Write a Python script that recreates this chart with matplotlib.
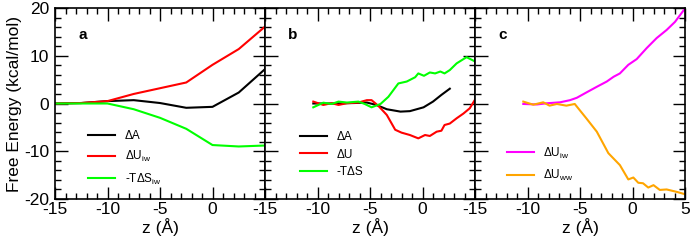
import matplotlib
matplotlib.use('Agg')
import matplotlib.pyplot as plt
from matplotlib.ticker import MultipleLocator

plt.rcParams['font.family'] = ['Liberation Sans', 'DejaVu Sans']
plt.rcParams['mathtext.fontset'] = 'custom'
plt.rcParams['mathtext.rm'] = 'Liberation Sans'
plt.rcParams['axes.unicode_minus'] = False

# panel a
za = [-15, -12.5, -10, -7.5, -5, -2.5, 0, 2.5, 5]
a_dA = [0.0, 0.1, 0.5, 0.7, 0.1, -0.9, -0.7, 2.3, 7.2]
a_dU = [0.0, 0.1, 0.5, 2.0, 3.2, 4.4, 8.1, 11.4, 16.1]
a_TdS = [0.0, 0.0, 0.0, -1.2, -3.0, -5.3, -8.7, -9.0, -8.8]

# panel b
zb_A = [-10.4, -9.5, -8.5, -7.5, -6.5, -5.3, -4.4, -3.4, -2.1, -1.2, 0.1, 1.0, 1.8, 2.6]
b_dA = [0.0, 0.0, 0.0, 0.05, 0.1, 0.2, -0.3, -1.2, -1.7, -1.6, -0.8, 0.4, 1.8, 3.1]
zb_U = [-10.4, -9.45, -8.65, -8.0, -7.2, -6.1, -5.3, -4.85, -4.2, -3.4, -2.6, -2.0, -1.2,
        -0.4, 0.24, 0.7, 1.35, 1.8, 2.1, 2.6, 3.25, 3.9, 4.5, 5.0]
b_dU = [0.4, -0.3, 0.06, -0.3, 0.06, 0.2, 0.7, 0.7, -0.5, -2.4, -5.5, -6.1, -6.6,
        -7.3, -6.6, -6.8, -5.9, -5.7, -4.5, -4.2, -3.1, -2.1, -1.0, 0.8]
zb_S = [-10.4, -9.45, -8.65, -8.0, -7.2, -6.1, -5.5, -4.85, -4.0, -3.25, -2.3, -1.5,
        -0.7, -0.4, 0.14, 0.7, 1.2, 1.7, 2.1, 2.6, 3.25, 3.9, 4.2, 5.0]
b_TdS = [-0.8, 0.17, -0.1, 0.4, 0.2, 0.4, -0.1, -0.8, -0.1, 1.4, 4.2, 4.6,
         5.5, 6.3, 5.8, 6.5, 6.3, 6.7, 6.3, 7.0, 8.4, 9.3, 9.7, 8.8]

# panel c
zc_iw = [-10.4, -9.1, -8.2, -6.9, -5.95, -5.3, -4.4, -3.4, -2.45, -1.8, -1.2, -0.4,
         0.4, 1.35, 2.3, 3.25, 4.05, 5.0]
c_Uiw = [-0.1, -0.2, 0.04, 0.25, 0.7, 1.2, 2.3, 3.5, 4.6, 5.6, 6.3, 8.1,
         9.3, 11.6, 13.7, 15.4, 17.1, 19.9]
zc_ww = [-10.4, -9.45, -8.5, -7.9, -7.2, -6.3, -5.5, -4.4, -3.4, -2.3, -1.2, -0.4,
         0.08, 0.55, 1.0, 1.5, 2.0, 2.6, 3.25, 4.2, 5.0]
c_Uww = [0.4, -0.25, 0.25, -0.45, -0.1, -0.45, -0.1, -3.1, -5.9, -10.4, -12.9, -15.9,
         -15.5, -16.6, -16.7, -17.6, -17.1, -18.1, -18.0, -18.5, -19.0]

fig = plt.figure(figsize=(6.92, 2.47), dpi=100)
left, bottom, w, h = 55 / 692, 1 - 199 / 247, 210 / 692, 191 / 247
axs = [fig.add_axes([left + i * w, bottom, w, h]) for i in range(3)]

lw = 1.5
axs[0].plot(za, a_dA, color='black', lw=lw, label='ΔA')
axs[0].plot(za, a_dU, color='#ff0000', lw=lw, label='ΔU$_{\\mathrm{iw}}$')
axs[0].plot(za, a_TdS, color='#00ff00', lw=lw, label='-TΔS$_{\\mathrm{iw}}$')

axs[1].plot(zb_A, b_dA, color='black', lw=lw, label='ΔA')
axs[1].plot(zb_U, b_dU, color='#ff0000', lw=lw, label='ΔU')
axs[1].plot(zb_S, b_TdS, color='#00ff00', lw=lw, label='-TΔS')

axs[2].plot(zc_iw, c_Uiw, color='#ff00ff', lw=lw, label='ΔU$_{\\mathrm{iw}}$')
axs[2].plot(zc_ww, c_Uww, color='#ffa500', lw=lw, label='ΔU$_{\\mathrm{ww}}$')

letters = ['a', 'b', 'c']
leg_pos = [(0.157, 0.36), (0.167, 0.355), (0.151, 0.28)]
leg_space = [0.6, 0.45, 0.6]
for i, ax in enumerate(axs):
    ax.set_xlim(-15, 5)
    ax.set_ylim(-20, 20)
    ax.xaxis.set_major_locator(MultipleLocator(5))
    ax.xaxis.set_minor_locator(MultipleLocator(1))
    ax.yaxis.set_major_locator(MultipleLocator(10))
    ax.yaxis.set_minor_locator(MultipleLocator(2))
    ax.tick_params(which='both', direction='in', top=True, right=True, labelsize=12.5)
    ax.tick_params(which='major', length=9, width=1)
    ax.tick_params(which='minor', length=4.5, width=1)
    ax.tick_params(axis='x', pad=2)
    ax.tick_params(axis='y', pad=4)
    for s in ax.spines.values():
        s.set_linewidth(1.2)
    ax.set_xticks([-15, -10, -5, 0, 5])
    if i < 2:
        ax.set_xticklabels(['-15', '-10', '-5', '0', ''])
    if i > 0:
        ax.set_yticklabels([])
    ax.set_xlabel('z (Å)', fontsize=12.5, labelpad=1)
    ax.text(0.11, 0.86, letters[i], transform=ax.transAxes, fontsize=11,
            fontweight='bold', va='center', ha='left')
    ax.legend(loc='upper left', bbox_to_anchor=leg_pos[i], frameon=False, fontsize=8.5,
              borderpad=0, borderaxespad=0, handlelength=2.3, handletextpad=0.8,
              labelspacing=leg_space[i])

axs[0].set_ylabel('Free Energy (kcal/mol)', fontsize=12.5, labelpad=2)

fig.savefig('out.png', dpi=100)
